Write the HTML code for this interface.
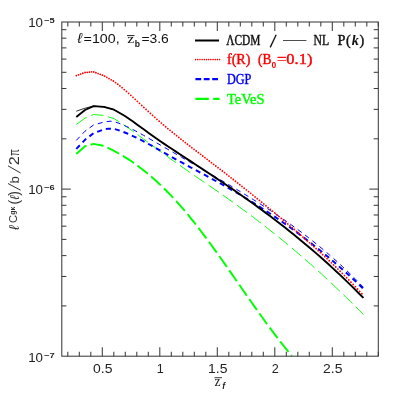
<!DOCTYPE html>
<html><head><meta charset="utf-8"><title>chart</title>
<style>
html,body{margin:0;padding:0;background:#fff;}
body{width:399px;height:399px;overflow:hidden;font-family:"Liberation Sans",sans-serif;}
svg{display:block;will-change:transform;}
</style></head>
<body>
<svg width="399" height="399" viewBox="0 0 399 399">
<rect x="0" y="0" width="399" height="399" fill="#ffffff"/>
<!-- curves -->
<g fill="none" stroke-linejoin="round">
<path d="M76.30,154.00 L85.00,146.30 L93.60,143.90 L103.20,145.70 L114.00,150.80 L122.00,155.40 L124.88,157.08 L127.76,158.91 L130.63,160.80 L133.51,162.78 L136.39,164.82 L139.27,166.95 L142.15,169.15 L145.02,171.43 L147.90,173.78 L150.78,176.22 L153.66,178.73 L156.54,181.31 L159.41,183.98 L162.29,186.72 L165.17,189.54 L168.05,192.44 L170.93,195.42 L173.80,198.48 L176.68,201.62 L179.56,204.84 L182.44,208.14 L185.32,211.52 L188.19,214.98 L191.07,218.51 L193.95,222.11 L196.83,225.78 L199.71,229.51 L202.58,233.30 L205.46,237.14 L208.34,241.03 L211.22,244.96 L214.09,248.94 L216.97,252.95 L219.85,256.99 L222.73,261.06 L225.61,265.15 L228.48,269.26 L231.36,273.39 L234.24,277.52 L237.12,281.66 L240.00,285.81 L242.87,289.95 L245.75,294.08 L248.63,298.20 L251.51,302.31 L254.39,306.40 L257.26,310.46 L260.14,314.50 L263.02,318.50 L265.90,322.47 L268.78,326.40 L271.65,330.28 L274.53,334.11 L277.41,337.88 L280.29,341.60 L283.17,345.26 L286.04,348.85 L288.92,352.37 L291.80,355.81" stroke="#00ff00" stroke-width="1.95" stroke-dasharray="13.2 4.3"/>
<path d="M76.30,124.40 L85.50,117.80 L93.50,114.50 L103.50,115.40 L114.00,118.60 L118.23,121.28 L122.45,124.03 L126.68,126.89 L130.91,129.85 L135.14,132.87 L139.36,135.94 L143.59,139.04 L147.82,142.16 L152.04,145.29 L156.27,148.42 L160.50,151.54 L164.73,154.62 L168.95,157.68 L173.18,160.69 L177.41,163.68 L181.63,166.64 L185.86,169.58 L190.09,172.51 L194.32,175.42 L198.54,178.33 L202.77,181.23 L207.00,184.13 L211.22,187.04 L215.45,189.96 L219.68,192.90 L223.91,195.86 L228.13,198.84 L232.36,201.85 L236.59,204.89 L240.81,207.96 L245.04,211.08 L249.27,214.22 L253.49,217.41 L257.72,220.63 L261.95,223.89 L266.18,227.18 L270.40,230.51 L274.63,233.88 L278.86,237.30 L283.08,240.75 L287.31,244.24 L291.54,247.77 L295.77,251.34 L299.99,254.96 L304.22,258.61 L308.45,262.31 L312.67,266.06 L316.90,269.84 L321.13,273.68 L325.36,277.55 L329.58,281.47 L333.81,285.44 L338.04,289.46 L342.26,293.52 L346.49,297.63 L350.72,301.78 L354.95,305.99 L359.17,310.25 L363.40,314.55" stroke="#00ff00" stroke-width="0.95" stroke-dasharray="12.6 4.8"/>
<path d="M76.30,148.90 L85.00,139.80 L93.50,133.20 L104.00,129.30 L109.00,128.60 L114.00,128.80 L118.23,130.13 L122.45,131.59 L126.68,133.24 L130.91,135.07 L135.14,137.03 L139.36,139.12 L143.59,141.31 L147.82,143.58 L152.04,145.91 L156.27,148.28 L160.50,150.68 L164.73,153.08 L168.95,155.46 L173.18,157.81 L177.41,160.14 L181.63,162.45 L185.86,164.75 L190.09,167.03 L194.32,169.31 L198.54,171.59 L202.77,173.87 L207.00,176.15 L211.22,178.45 L215.45,180.76 L219.68,183.09 L223.91,185.44 L228.13,187.83 L232.36,190.24 L236.59,192.69 L240.81,195.19 L245.04,197.72 L249.27,200.29 L253.49,202.90 L257.72,205.56 L261.95,208.26 L266.18,211.00 L270.40,213.79 L274.63,216.63 L278.86,219.51 L283.08,222.45 L287.31,225.43 L291.54,228.47 L295.77,231.55 L299.99,234.69 L304.22,237.89 L308.45,241.13 L312.67,244.44 L316.90,247.80 L321.13,251.22 L325.36,254.70 L329.58,258.24 L333.81,261.84 L338.04,265.50 L342.26,269.23 L346.49,273.02 L350.72,276.88 L354.95,280.80 L359.17,284.79 L363.40,288.85" stroke="#0000ff" stroke-width="1.95" stroke-dasharray="5.1 4.0"/>
<path d="M76.30,140.40 L85.00,131.20 L93.50,125.00 L104.00,122.00 L110.00,121.20 L114.00,121.50 L118.23,123.06 L122.45,124.69 L126.68,126.53 L130.91,128.55 L135.14,130.72 L139.36,133.00 L143.59,135.37 L147.82,137.79 L152.04,140.24 L156.27,142.67 L160.50,145.11 L164.73,147.54 L168.95,149.98 L173.18,152.41 L177.41,154.84 L181.63,157.27 L185.86,159.71 L190.09,162.15 L194.32,164.59 L198.54,167.03 L202.77,169.48 L207.00,171.94 L211.22,174.40 L215.45,176.87 L219.68,179.35 L223.91,181.84 L228.13,184.34 L232.36,186.85 L236.59,189.38 L240.81,191.93 L245.04,194.49 L249.27,197.09 L253.49,199.71 L257.72,202.36 L261.95,205.04 L266.18,207.76 L270.40,210.52 L274.63,213.33 L278.86,216.18 L283.08,219.08 L287.31,222.02 L291.54,225.03 L295.77,228.09 L299.99,231.21 L304.22,234.39 L308.45,237.65 L312.67,240.97 L316.90,244.36 L321.13,247.83 L325.36,251.37 L329.58,255.00 L333.81,258.71 L338.04,262.51 L342.26,266.40 L346.49,270.38 L350.72,274.46 L354.95,278.63 L359.17,282.91 L363.40,287.30" stroke="#0000ff" stroke-width="1.0" stroke-dasharray="5.0 4.2"/>
<path d="M76.30,75.60h0.01M78.48,74.82h0.01M80.66,74.05h0.01M82.84,73.27h0.01M85.02,72.50h0.01M87.20,72.29h0.01M89.38,72.07h0.01M91.56,71.86h0.01M93.74,71.90h0.01M95.92,72.73h0.01M98.10,73.55h0.01M100.28,74.37h0.01M102.46,75.19h0.01M104.64,76.17h0.01M106.82,77.37h0.01M109.00,78.58h0.01M111.18,79.79h0.01M113.36,81.00h0.01M115.54,82.55h0.01M117.72,84.21h0.01M119.90,85.93h0.01M122.08,87.71h0.01M124.26,89.55h0.01M126.44,91.43h0.01M128.62,93.35h0.01M130.80,95.31h0.01M132.98,97.29h0.01M135.16,99.30h0.01M137.34,101.32h0.01M139.52,103.36h0.01M141.70,105.39h0.01M143.88,107.43h0.01M146.06,109.45h0.01M148.24,111.46h0.01M150.42,113.45h0.01M152.60,115.42h0.01M154.78,117.36h0.01M156.96,119.28h0.01M159.14,121.18h0.01M161.32,123.05h0.01M163.50,124.91h0.01M165.68,126.74h0.01M167.86,128.56h0.01M170.04,130.36h0.01M172.22,132.15h0.01M174.40,133.91h0.01M176.58,135.67h0.01M178.76,137.41h0.01M180.94,139.14h0.01M183.12,140.86h0.01M185.30,142.57h0.01M187.48,144.27h0.01M189.66,145.96h0.01M191.84,147.64h0.01M194.02,149.32h0.01M196.20,150.99h0.01M198.38,152.66h0.01M200.56,154.33h0.01M202.74,155.99h0.01M204.92,157.65h0.01M207.10,159.32h0.01M209.28,160.98h0.01M211.46,162.64h0.01M213.64,164.31h0.01M215.82,165.98h0.01M218.00,167.66h0.01M220.18,169.34h0.01M222.36,171.02h0.01M224.54,172.71h0.01M226.72,174.41h0.01M228.90,176.11h0.01M231.08,177.81h0.01M233.26,179.52h0.01M235.44,181.23h0.01M237.62,182.95h0.01M239.80,184.67h0.01M241.98,186.40h0.01M244.16,188.14h0.01M246.34,189.87h0.01M248.52,191.62h0.01M250.70,193.37h0.01M252.88,195.12h0.01M255.06,196.88h0.01M257.24,198.65h0.01M259.42,200.42h0.01M261.60,202.19h0.01M263.78,203.97h0.01M265.96,205.76h0.01M268.14,207.55h0.01M270.32,209.35h0.01M272.50,211.15h0.01M274.68,212.96h0.01M276.86,214.77h0.01M279.04,216.59h0.01M281.22,218.42h0.01M283.40,220.25h0.01M285.58,222.09h0.01M287.76,223.93h0.01M289.94,225.78h0.01M292.12,227.64h0.01M294.30,229.51h0.01M296.48,231.38h0.01M298.66,233.26h0.01M300.84,235.15h0.01M303.02,237.05h0.01M305.20,238.96h0.01M307.38,240.88h0.01M309.56,242.81h0.01M311.74,244.75h0.01M313.92,246.70h0.01M316.10,248.67h0.01M318.28,250.65h0.01M320.46,252.64h0.01M322.64,254.65h0.01M324.82,256.67h0.01M327.00,258.70h0.01M329.18,260.75h0.01M331.36,262.82h0.01M333.54,264.90h0.01M335.72,267.00h0.01M337.90,269.11h0.01M340.08,271.25h0.01M342.26,273.40h0.01M344.44,275.57h0.01M346.62,277.75h0.01M348.80,279.96h0.01M350.98,282.19h0.01M353.16,284.44h0.01M355.34,286.71h0.01M357.52,289.00h0.01M359.70,291.31h0.01M361.88,293.65h0.01" stroke="#ff0000" stroke-width="1.8" stroke-linecap="round"/>
<path d="M76.30,111.20 L85.00,108.20 L93.50,106.10 L104.00,106.90 L114.00,109.70 L124.50,115.70 L133.00,121.50 L136.91,124.44 L140.81,127.26 L144.72,130.08 L148.62,132.90 L152.53,135.70 L156.43,138.47 L160.34,141.20 L164.24,143.87 L168.15,146.49 L172.05,149.07 L175.96,151.65 L179.86,154.22 L183.77,156.78 L187.67,159.34 L191.58,161.90 L195.48,164.46 L199.39,167.03 L203.29,169.60 L207.20,172.17 L211.10,174.76 L215.01,177.35 L218.91,179.96 L222.82,182.58 L226.72,185.22 L230.63,187.88 L234.53,190.56 L238.44,193.26 L242.34,195.98 L246.25,198.73 L250.15,201.50 L254.06,204.30 L257.96,207.13 L261.87,209.99 L265.77,212.88 L269.68,215.80 L273.58,218.75 L277.49,221.74 L281.39,224.75 L285.30,227.81 L289.20,230.90 L293.11,234.03 L297.01,237.19 L300.92,240.40 L304.82,243.65 L308.73,246.93 L312.63,250.27 L316.54,253.64 L320.44,257.06 L324.35,260.53 L328.25,264.04 L332.16,267.60 L336.06,271.21 L339.97,274.87 L343.87,278.58 L347.78,282.35 L351.68,286.16 L355.59,290.04 L359.49,293.96 L363.40,297.95" stroke="#000000" stroke-width="0.8"/>
<path d="M76.30,117.00 L85.00,110.00 L93.50,106.10 L104.00,106.90 L114.00,109.70 L124.50,115.70 L133.00,121.50 L136.91,124.44 L140.81,127.26 L144.72,130.08 L148.62,132.90 L152.53,135.70 L156.43,138.47 L160.34,141.20 L164.24,143.87 L168.15,146.49 L172.05,149.07 L175.96,151.65 L179.86,154.22 L183.77,156.78 L187.67,159.34 L191.58,161.90 L195.48,164.46 L199.39,167.03 L203.29,169.60 L207.20,172.17 L211.10,174.76 L215.01,177.35 L218.91,179.96 L222.82,182.58 L226.72,185.22 L230.63,187.88 L234.53,190.56 L238.44,193.26 L242.34,195.98 L246.25,198.73 L250.15,201.50 L254.06,204.30 L257.96,207.13 L261.87,209.99 L265.77,212.88 L269.68,215.80 L273.58,218.75 L277.49,221.74 L281.39,224.75 L285.30,227.81 L289.20,230.90 L293.11,234.03 L297.01,237.19 L300.92,240.40 L304.82,243.65 L308.73,246.93 L312.63,250.27 L316.54,253.64 L320.44,257.06 L324.35,260.53 L328.25,264.04 L332.16,267.60 L336.06,271.21 L339.97,274.87 L343.87,278.58 L347.78,282.35 L351.68,286.16 L355.59,290.04 L359.49,293.96 L363.40,297.95" stroke="#000000" stroke-width="1.9"/>
</g>
<!-- frame -->
<g fill="none" stroke="#3c3c3c" stroke-width="1.05">
<rect x="61.8" y="22.0" width="316.50" height="334.20"/>
<line x1="67.80" y1="356.2" x2="67.80" y2="351.80"/>
<line x1="67.80" y1="22.0" x2="67.80" y2="26.40"/>
<line x1="79.30" y1="356.2" x2="79.30" y2="351.80"/>
<line x1="79.30" y1="22.0" x2="79.30" y2="26.40"/>
<line x1="90.80" y1="356.2" x2="90.80" y2="351.80"/>
<line x1="90.80" y1="22.0" x2="90.80" y2="26.40"/>
<line x1="102.30" y1="356.2" x2="102.30" y2="347.20"/>
<line x1="102.30" y1="22.0" x2="102.30" y2="31.00"/>
<line x1="113.80" y1="356.2" x2="113.80" y2="351.80"/>
<line x1="113.80" y1="22.0" x2="113.80" y2="26.40"/>
<line x1="125.30" y1="356.2" x2="125.30" y2="351.80"/>
<line x1="125.30" y1="22.0" x2="125.30" y2="26.40"/>
<line x1="136.80" y1="356.2" x2="136.80" y2="351.80"/>
<line x1="136.80" y1="22.0" x2="136.80" y2="26.40"/>
<line x1="148.30" y1="356.2" x2="148.30" y2="351.80"/>
<line x1="148.30" y1="22.0" x2="148.30" y2="26.40"/>
<line x1="159.80" y1="356.2" x2="159.80" y2="347.20"/>
<line x1="159.80" y1="22.0" x2="159.80" y2="31.00"/>
<line x1="171.30" y1="356.2" x2="171.30" y2="351.80"/>
<line x1="171.30" y1="22.0" x2="171.30" y2="26.40"/>
<line x1="182.80" y1="356.2" x2="182.80" y2="351.80"/>
<line x1="182.80" y1="22.0" x2="182.80" y2="26.40"/>
<line x1="194.30" y1="356.2" x2="194.30" y2="351.80"/>
<line x1="194.30" y1="22.0" x2="194.30" y2="26.40"/>
<line x1="205.80" y1="356.2" x2="205.80" y2="351.80"/>
<line x1="205.80" y1="22.0" x2="205.80" y2="26.40"/>
<line x1="217.30" y1="356.2" x2="217.30" y2="347.20"/>
<line x1="217.30" y1="22.0" x2="217.30" y2="31.00"/>
<line x1="228.80" y1="356.2" x2="228.80" y2="351.80"/>
<line x1="228.80" y1="22.0" x2="228.80" y2="26.40"/>
<line x1="240.30" y1="356.2" x2="240.30" y2="351.80"/>
<line x1="240.30" y1="22.0" x2="240.30" y2="26.40"/>
<line x1="251.80" y1="356.2" x2="251.80" y2="351.80"/>
<line x1="251.80" y1="22.0" x2="251.80" y2="26.40"/>
<line x1="263.30" y1="356.2" x2="263.30" y2="351.80"/>
<line x1="263.30" y1="22.0" x2="263.30" y2="26.40"/>
<line x1="274.80" y1="356.2" x2="274.80" y2="347.20"/>
<line x1="274.80" y1="22.0" x2="274.80" y2="31.00"/>
<line x1="286.30" y1="356.2" x2="286.30" y2="351.80"/>
<line x1="286.30" y1="22.0" x2="286.30" y2="26.40"/>
<line x1="297.80" y1="356.2" x2="297.80" y2="351.80"/>
<line x1="297.80" y1="22.0" x2="297.80" y2="26.40"/>
<line x1="309.30" y1="356.2" x2="309.30" y2="351.80"/>
<line x1="309.30" y1="22.0" x2="309.30" y2="26.40"/>
<line x1="320.80" y1="356.2" x2="320.80" y2="351.80"/>
<line x1="320.80" y1="22.0" x2="320.80" y2="26.40"/>
<line x1="332.30" y1="356.2" x2="332.30" y2="347.20"/>
<line x1="332.30" y1="22.0" x2="332.30" y2="31.00"/>
<line x1="343.80" y1="356.2" x2="343.80" y2="351.80"/>
<line x1="343.80" y1="22.0" x2="343.80" y2="26.40"/>
<line x1="355.30" y1="356.2" x2="355.30" y2="351.80"/>
<line x1="355.30" y1="22.0" x2="355.30" y2="26.40"/>
<line x1="366.80" y1="356.2" x2="366.80" y2="351.80"/>
<line x1="366.80" y1="22.0" x2="366.80" y2="26.40"/>
<line x1="378.30" y1="356.2" x2="378.30" y2="351.80"/>
<line x1="378.30" y1="22.0" x2="378.30" y2="26.40"/>
<line x1="61.8" y1="189.10" x2="70.80" y2="189.10"/>
<line x1="378.3" y1="189.10" x2="369.30" y2="189.10"/>
<line x1="61.8" y1="138.80" x2="66.40" y2="138.80"/>
<line x1="378.3" y1="138.80" x2="373.70" y2="138.80"/>
<line x1="61.8" y1="109.37" x2="66.40" y2="109.37"/>
<line x1="378.3" y1="109.37" x2="373.70" y2="109.37"/>
<line x1="61.8" y1="88.50" x2="66.40" y2="88.50"/>
<line x1="378.3" y1="88.50" x2="373.70" y2="88.50"/>
<line x1="61.8" y1="72.30" x2="66.40" y2="72.30"/>
<line x1="378.3" y1="72.30" x2="373.70" y2="72.30"/>
<line x1="61.8" y1="59.07" x2="66.40" y2="59.07"/>
<line x1="378.3" y1="59.07" x2="373.70" y2="59.07"/>
<line x1="61.8" y1="47.88" x2="66.40" y2="47.88"/>
<line x1="378.3" y1="47.88" x2="373.70" y2="47.88"/>
<line x1="61.8" y1="38.19" x2="66.40" y2="38.19"/>
<line x1="378.3" y1="38.19" x2="373.70" y2="38.19"/>
<line x1="61.8" y1="29.65" x2="66.40" y2="29.65"/>
<line x1="378.3" y1="29.65" x2="373.70" y2="29.65"/>
<line x1="61.8" y1="305.90" x2="66.40" y2="305.90"/>
<line x1="378.3" y1="305.90" x2="373.70" y2="305.90"/>
<line x1="61.8" y1="276.47" x2="66.40" y2="276.47"/>
<line x1="378.3" y1="276.47" x2="373.70" y2="276.47"/>
<line x1="61.8" y1="255.60" x2="66.40" y2="255.60"/>
<line x1="378.3" y1="255.60" x2="373.70" y2="255.60"/>
<line x1="61.8" y1="239.40" x2="66.40" y2="239.40"/>
<line x1="378.3" y1="239.40" x2="373.70" y2="239.40"/>
<line x1="61.8" y1="226.17" x2="66.40" y2="226.17"/>
<line x1="378.3" y1="226.17" x2="373.70" y2="226.17"/>
<line x1="61.8" y1="214.98" x2="66.40" y2="214.98"/>
<line x1="378.3" y1="214.98" x2="373.70" y2="214.98"/>
<line x1="61.8" y1="205.29" x2="66.40" y2="205.29"/>
<line x1="378.3" y1="205.29" x2="373.70" y2="205.29"/>
<line x1="61.8" y1="196.75" x2="66.40" y2="196.75"/>
<line x1="378.3" y1="196.75" x2="373.70" y2="196.75"/>
</g>
<!-- tick labels -->
<text x="102.70" y="372.7" text-anchor="middle" font-family="Liberation Sans, sans-serif" font-size="12.6" fill="#222" textLength="19.4" lengthAdjust="spacingAndGlyphs">0.5</text>
<text x="160.20" y="372.7" text-anchor="middle" font-family="Liberation Sans, sans-serif" font-size="12.6" fill="#222">1</text>
<text x="217.70" y="372.7" text-anchor="middle" font-family="Liberation Sans, sans-serif" font-size="12.6" fill="#222" textLength="19.4" lengthAdjust="spacingAndGlyphs">1.5</text>
<text x="275.20" y="372.7" text-anchor="middle" font-family="Liberation Sans, sans-serif" font-size="12.6" fill="#222">2</text>
<text x="332.70" y="372.7" text-anchor="middle" font-family="Liberation Sans, sans-serif" font-size="12.6" fill="#222" textLength="19.4" lengthAdjust="spacingAndGlyphs">2.5</text>
<text x="28.2" y="26.8" font-family="Liberation Sans, sans-serif" font-size="12.6" fill="#222" textLength="14.8" lengthAdjust="spacingAndGlyphs">10</text>
<text x="44.0" y="22.9" font-family="Liberation Sans, sans-serif" font-size="7.2" font-weight="bold" fill="#222" textLength="10.6" lengthAdjust="spacingAndGlyphs">−5</text>
<text x="28.2" y="194.0" font-family="Liberation Sans, sans-serif" font-size="12.6" fill="#222" textLength="14.8" lengthAdjust="spacingAndGlyphs">10</text>
<text x="44.0" y="190.1" font-family="Liberation Sans, sans-serif" font-size="7.2" font-weight="bold" fill="#222" textLength="10.6" lengthAdjust="spacingAndGlyphs">−6</text>
<text x="28.2" y="361.7" font-family="Liberation Sans, sans-serif" font-size="12.6" fill="#222" textLength="14.8" lengthAdjust="spacingAndGlyphs">10</text>
<text x="44.0" y="357.8" font-family="Liberation Sans, sans-serif" font-size="7.2" font-weight="bold" fill="#222" textLength="10.6" lengthAdjust="spacingAndGlyphs">−7</text>
<!-- x-axis label -->
<text x="214.6" y="385.8" font-family="Liberation Serif, serif" font-size="13.6" fill="#222">z</text>
<line x1="214.5" y1="377.7" x2="222.0" y2="377.7" stroke="#222" stroke-width="0.9"/>
<text x="222.2" y="389.3" font-family="Liberation Sans, sans-serif" font-size="8.6" font-weight="bold" font-style="italic" fill="#222">f</text>
<!-- y-axis label -->
<g transform="translate(18.6,230) rotate(-90)" fill="#333">
<text x="0.0" y="0" font-family="Liberation Sans, sans-serif" font-style="italic" font-size="14.5">ℓ</text>
<text x="7.0" y="-1.2" font-family="Liberation Sans, sans-serif" font-size="11.2">C</text>
<text x="15.3" y="-3.3" font-family="Liberation Sans, sans-serif" font-size="6.4" font-weight="bold" textLength="8.0" lengthAdjust="spacingAndGlyphs">gκ</text>
<text x="25.6" y="0" font-family="Liberation Sans, sans-serif" font-size="14">(</text>
<text x="30.2" y="0" font-family="Liberation Sans, sans-serif" font-style="italic" font-size="13">ℓ</text>
<text x="34.2" y="0" font-family="Liberation Sans, sans-serif" font-size="14">)</text>
<line x1="39.8" y1="2" x2="46.5" y2="-10.6" stroke="#333" stroke-width="1"/>
<text x="46.6" y="0" font-family="Liberation Sans, sans-serif" font-size="13.2">b</text>
<line x1="57.0" y1="2" x2="64.2" y2="-10.6" stroke="#333" stroke-width="1"/>
<text x="64.7" y="0" font-family="Liberation Sans, sans-serif" font-size="13.8" textLength="9.0" lengthAdjust="spacingAndGlyphs">2</text>
<text x="73.9" y="0" font-family="Liberation Sans, sans-serif" font-size="13.8" textLength="6.9" lengthAdjust="spacingAndGlyphs">π</text>
</g>
<!-- top-left annotation -->
<g fill="#111">
<text x="77.6" y="43.3" font-family="Liberation Sans, sans-serif" font-style="italic" font-size="14.6">ℓ</text>
<text x="83.6" y="42.9" font-family="Liberation Sans, sans-serif" font-size="12.8" textLength="36" lengthAdjust="spacingAndGlyphs">=100,</text>
<text x="127.3" y="42.9" font-family="Liberation Serif, serif" font-size="11.8" textLength="7.0" lengthAdjust="spacingAndGlyphs">z</text>
<line x1="127.0" y1="35.6" x2="134.5" y2="35.6" stroke="#111" stroke-width="0.95"/>
<text x="134.7" y="46.9" font-family="Liberation Sans, sans-serif" font-size="8.6" font-weight="bold">b</text>
<text x="141.4" y="43.0" font-family="Liberation Sans, sans-serif" font-size="12.6" textLength="27.4" lengthAdjust="spacingAndGlyphs">=3.6</text>
</g>
<!-- legend -->
<g fill="none">
<line x1="195" y1="40.5" x2="219" y2="40.5" stroke="#000" stroke-width="2"/>
<line x1="283" y1="40.5" x2="306.4" y2="40.5" stroke="#000" stroke-width="0.7"/>
<line x1="195.6" y1="59.6" x2="219.6" y2="59.6" stroke="#ff0000" stroke-width="1.65" stroke-linecap="round" stroke-dasharray="0.01 2.17"/>
<line x1="195.4" y1="79.2" x2="219" y2="79.2" stroke="#0000ff" stroke-width="2.2" stroke-dasharray="5.8 2.6"/>
<line x1="195.4" y1="98.8" x2="219.6" y2="98.8" stroke="#00ff00" stroke-width="2.2" stroke-dasharray="13.4 4.4"/>
<line x1="270.2" y1="47.4" x2="276.2" y2="34.8" stroke="#111" stroke-width="1.3"/>
</g>
<g font-family="Liberation Serif, serif" font-size="14.2" stroke-width="0.42" stroke-linejoin="round">
<g fill="#111" stroke="#111">
<text x="226.2" y="45.2" textLength="34.2" lengthAdjust="spacingAndGlyphs">ΛCDM</text>
<text x="313.6" y="45.2" textLength="15.6" lengthAdjust="spacingAndGlyphs">NL</text>
<text x="337.4" y="45.2">P</text>
<text x="345.9" y="45.2">(</text>
<text x="351.7" y="45.2" font-style="italic" font-weight="bold" stroke="none">k</text>
<text x="359.4" y="45.2">)</text>
</g>
<g fill="#ff0000" stroke="#ff0000">
<text x="227" y="64.4" textLength="23.4" lengthAdjust="spacingAndGlyphs">f(R)</text>
<text x="258" y="64.4" textLength="13.4" lengthAdjust="spacingAndGlyphs">(B</text>
<text x="271.6" y="67.8" font-family="Liberation Sans, sans-serif" font-size="8.5" font-weight="bold" stroke="none">0</text>
<text x="277" y="64.4" textLength="35.4" lengthAdjust="spacingAndGlyphs">=0.1)</text>
</g>
<text x="227" y="84.3" fill="#0000ff" stroke="#0000ff" textLength="24.4" lengthAdjust="spacingAndGlyphs">DGP</text>
<text x="227" y="104.2" fill="#00ff00" stroke="#00ff00" textLength="37.4" lengthAdjust="spacingAndGlyphs">TeVeS</text>
</g>
</svg>
</body></html>
